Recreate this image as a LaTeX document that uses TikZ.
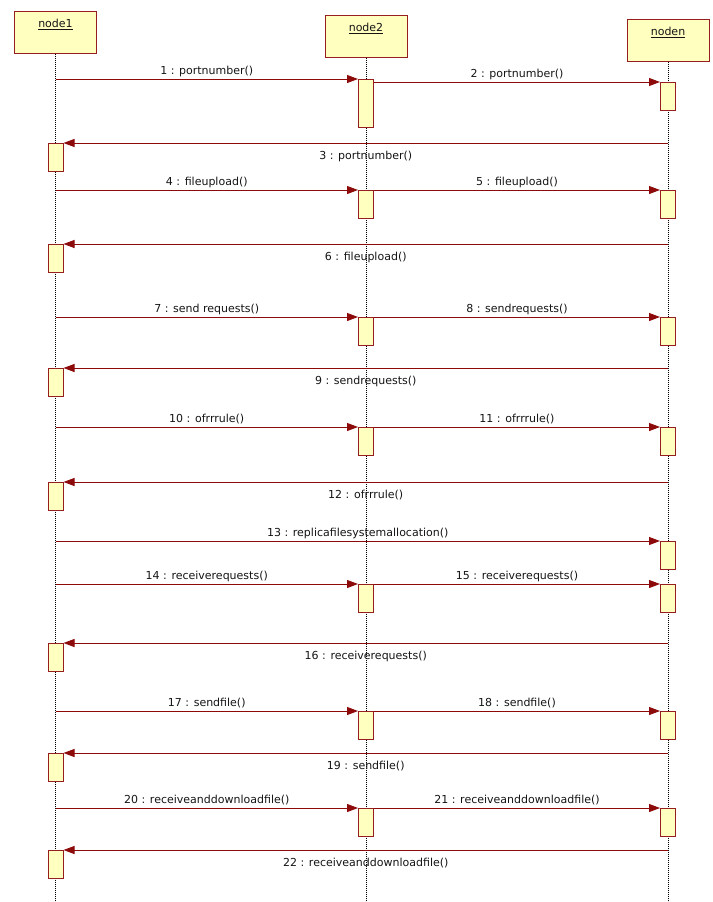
\documentclass[tikz,border=0pt]{standalone}
\usepackage{fontspec}
\setmainfont{DejaVu Sans}
\usetikzlibrary{arrows.meta}
\definecolor{boxline}{RGB}{150,30,30}
\definecolor{boxfill}{RGB}{255,255,192}
\definecolor{msgline}{RGB}{140,10,10}
\definecolor{txt}{RGB}{20,20,20}
\tikzset{
  headbox/.style={draw=boxline, line width=1pt, fill=boxfill, inner xsep=0pt, inner ysep=0pt,
    minimum width=82pt, align=center, text height=16pt, text depth=25.5pt, anchor=north,
    font=\fontsize{11}{13}\selectfont, text=txt},
  act/.style={draw=boxline, line width=1pt, fill=boxfill, inner sep=0pt, minimum width=15pt,
    minimum height=28pt, anchor=north},
  lifeline/.style={draw=black, line width=0.6pt, dash pattern=on 1pt off 1pt},
  msg/.style={draw=msgline, line width=0.9pt, -{Triangle[length=11pt,width=8pt]}},
  lblup/.style={midway, anchor=base, yshift=5pt, inner sep=0pt, font=\fontsize{11}{13}\selectfont, text=txt},
  lbldn/.style={midway, anchor=base, yshift=-16pt, inner sep=0pt, font=\fontsize{11}{13}\selectfont, text=txt}
}
\begin{document}
\begin{tikzpicture}[x=1pt,y=-1pt]
\useasboundingbox (0,0) rectangle (712,902);
% heads
\node[headbox] (n1) at (55.5,11) {\underline{node1}};
\node[headbox] (n2) at (366,15) {\underline{node2}};
\node[headbox] (n3) at (668,19) {\underline{noden}};
% lifeline ends
\coordinate (e1) at (55.5,902);
\coordinate (e2) at (366,902);
\coordinate (e3) at (668,902);
\draw[lifeline] (n1.south) -- (e1);
\draw[lifeline] (n2.south) -- (e2);
\draw[lifeline] (n3.south) -- (e3);
% activations
\node[act, minimum height=48pt] (b1) at (366,79) {};
\node[act] (c2) at (668,82) {};
\node[act] (a3) at (55.5,143) {};
\node[act] (b4) at (366,190) {};
\node[act] (c5) at (668,190) {};
\node[act] (a6) at (55.5,244) {};
\node[act] (b7) at (366,317) {};
\node[act] (c8) at (668,317) {};
\node[act] (a9) at (55.5,368) {};
\node[act] (b10) at (366,427) {};
\node[act] (c11) at (668,427) {};
\node[act] (a12) at (55.5,482) {};
\node[act] (c13) at (668,541) {};
\node[act] (b14) at (366,584) {};
\node[act] (c15) at (668,584) {};
\node[act] (a16) at (55.5,643) {};
\node[act] (b17) at (366,711) {};
\node[act] (c18) at (668,711) {};
\node[act] (a19) at (55.5,753) {};
\node[act] (b20) at (366,808) {};
\node[act] (c21) at (668,808) {};
\node[act] (a22) at (55.5,850) {};
% message end points on lifelines
\coordinate (s1) at (55.5,79);
\coordinate (r3) at (668,143);
\coordinate (s4) at (55.5,190);
\coordinate (r6) at (668,244);
\coordinate (s7) at (55.5,317);
\coordinate (r9) at (668,368);
\coordinate (s10) at (55.5,427);
\coordinate (r12) at (668,482);
\coordinate (s13) at (55.5,541);
\coordinate (s14) at (55.5,584);
\coordinate (r16) at (668,643);
\coordinate (s17) at (55.5,711);
\coordinate (r19) at (668,753);
\coordinate (s20) at (55.5,808);
\coordinate (r22) at (668,850);
% messages
\draw[msg] (s1) -- (b1.north west) node[lblup] {1 : portnumber()};
\draw[msg] (b1.east |- c2.north west) -- (c2.north west) node[lblup] {2 : portnumber()};
\draw[msg] (r3) -- (a3.north east) node[lbldn] {3 : portnumber()};
\draw[msg] (s4) -- (b4.north west) node[lblup] {4 : fileupload()};
\draw[msg] (b4.north east) -- (c5.north west) node[lblup] {5 : fileupload()};
\draw[msg] (r6) -- (a6.north east) node[lbldn] {6 : fileupload()};
\draw[msg] (s7) -- (b7.north west) node[lblup] {7 : send requests()};
\draw[msg] (b7.north east) -- (c8.north west) node[lblup] {8 : sendrequests()};
\draw[msg] (r9) -- (a9.north east) node[lbldn] {9 : sendrequests()};
\draw[msg] (s10) -- (b10.north west) node[lblup] {10 : ofrrrule()};
\draw[msg] (b10.north east) -- (c11.north west) node[lblup] {11 : ofrrrule()};
\draw[msg] (r12) -- (a12.north east) node[lbldn] {12 : ofrrrule()};
\draw[msg] (s13) -- (c13.north west) node[lblup] {13 : replicafilesystemallocation()};
\draw[msg] (s14) -- (b14.north west) node[lblup] {14 : receiverequests()};
\draw[msg] (b14.north east) -- (c15.north west) node[lblup] {15 : receiverequests()};
\draw[msg] (r16) -- (a16.north east) node[lbldn] {16 : receiverequests()};
\draw[msg] (s17) -- (b17.north west) node[lblup] {17 : sendfile()};
\draw[msg] (b17.north east) -- (c18.north west) node[lblup] {18 : sendfile()};
\draw[msg] (r19) -- (a19.north east) node[lbldn] {19 : sendfile()};
\draw[msg] (s20) -- (b20.north west) node[lblup] {20 : receiveanddownloadfile()};
\draw[msg] (b20.north east) -- (c21.north west) node[lblup] {21 : receiveanddownloadfile()};
\draw[msg] (r22) -- (a22.north east) node[lbldn] {22 : receiveanddownloadfile()};
\end{tikzpicture}
\end{document}
